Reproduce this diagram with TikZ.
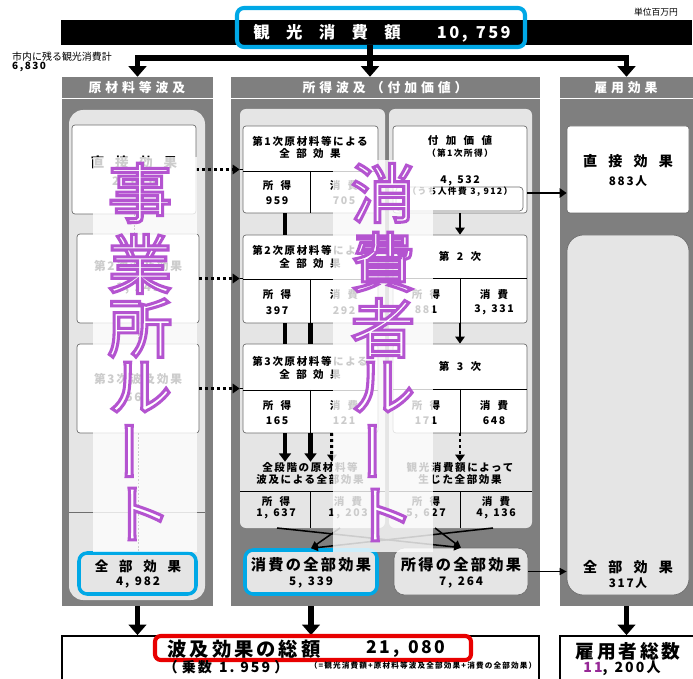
\documentclass[tikz,border=0pt]{standalone}
\usepackage{fontspec}
\setmainfont{Noto Sans CJK JP}[LetterSpace=15]
\newfontfamily\routefont{Noto Sans CJK JP}
\usetikzlibrary{arrows.meta,calc,fit}

\definecolor{panelgray}{RGB}{127,127,127}
\definecolor{lightbg}{RGB}{229,229,229}
\definecolor{boxline}{RGB}{110,110,110}
\definecolor{framecyan}{RGB}{0,168,230}
\definecolor{framered}{RGB}{232,0,0}
\definecolor{numpurple}{RGB}{150,40,150}

\newcommand{\jsp}[1][0.6]{\hspace{#1em}}
% outlined glyph: white fill, purple stroke
\newcommand{\hollow}[1]{\special{pdf:literal direct 2 Tr 2.6 w 0.706 0.329 0.816 RG}#1\special{pdf:literal direct 0 Tr}}

\tikzset{
  panel/.style={inner sep=0pt, fill=panelgray},
  sub/.style={inner sep=0pt, fill=lightbg, rounded corners=5pt},
  wbox/.style={inner sep=0pt, draw=boxline, fill=white, line width=0.6pt, rounded corners=2.5pt},
  cyanbox/.style={inner sep=0pt, draw=framecyan, fill=lightbg, line width=3pt, rounded corners=7pt},
  txt/.style={inner sep=0pt, font=\fontsize{#1}{#1}\selectfont\bfseries},
  txt/.default=9,
  hdr/.style={inner sep=0pt, text=white, font=\fontsize{11}{11}\selectfont\bfseries\addfontfeature{LetterSpace=30}},
  plain/.style={inner sep=0pt, font=\fontsize{#1}{#1}\selectfont\addfontfeature{LetterSpace=0}},
  cellline/.style={line width=0.6pt},
  heavy/.style={line width=5pt, -{Triangle[length=9pt,width=15pt]}},
  barline/.style={line width=4pt},
  downarrow/.style={line width=4pt, -{Triangle[length=7pt,width=10pt]}},
  midarrow/.style={line width=2.5pt, -{Triangle[length=6pt,width=8pt]}},
  thinarrow/.style={line width=1.3pt, -{Triangle[length=6pt,width=6pt]}},
  dotarrow/.style={line width=2.5pt, dash pattern=on 2.5pt off 2.5pt, -{Triangle[length=6pt,width=8pt]}},
  faint/.style={line width=0.8pt, dash pattern=on 1.5pt off 1.5pt},
  route/.style={inner sep=0pt, text=white, font=\routefont\fontsize{55}{55}\selectfont}
}

\begin{document}
\begin{tikzpicture}[x=0.03cm, y=-0.03cm]
\useasboundingbox (0,0) rectangle (693,679);

% top bar
\node[plain=7.5] (unit) at (656,12) {単位百万円};
\node[panel, fill=black, fit={(61,20) (692,45)}] (bar) {};
\node[inner sep=0pt, draw=framecyan, line width=3.5pt, rounded corners=6pt, fit={(237,8) (525,47)}] (titlebox) {};
\node[txt=14, text=white] (title) at (382,33) {観\jsp[1]光\jsp[1]消\jsp[1]費\jsp[1]額\jsp[2.2]10,\jsp[0.5]759};
\node[plain=8.5, anchor=west] (remain) at (12,57) {市内に残る観光消費計};
\node[txt=8.5, anchor=west] (remainv) at (12,67) {6,830};

% panels
\node[panel, fit={(62,77) (213,606)}] (pL) {};
\node[panel, fit={(231,77) (540,606)}] (pM) {};
\node[panel, fit={(560,77) (693,606)}] (pR) {};
\node[hdr] (hL) at (137,88) {原材料等波及};
\node[hdr] (hM) at (385,88) {所得波及\jsp[0.4]（付加価値）};
\node[hdr] (hR) at (626,88) {雇用効果};
\draw[white, line width=0.8pt] (62,98) -- (213,98) (231,98) -- (540,98) (560,98) -- (693,98);

\coordinate (split) at (370,58);
\draw[barline, line width=5pt] (bar.south -| split) -- (split);
\draw[heavy] (split) -| (pL.north);
\draw[heavy] (split) -| (pR.north);
\draw[heavy] (split) -- (split |- pM.north);

% left column
\node[sub, rounded corners=12pt, fit={(69,110) (205,600)}] (lsub) {};
\node[wbox, fit={(72,125) (196,214)}] (l1) {};
\node[txt=11.5] (l1t) at (134,162) {直\jsp[0.8]接\jsp[0.8]効\jsp[0.8]果};
\node[txt=10] (l1v) at (134,182) {2,\jsp[0.5]616};
\node[wbox, fit={(77,234) (199,323)}] (l2) {};
\node[txt=10] (l2t) at (138,266) {第2次波及効果};
\node[txt=10] (l2v) at (138,288) {1,\jsp[0.5]249};
\node[wbox, fit={(77,344) (199,433)}] (l3) {};
\node[txt=10] (l3t) at (138,379) {第3次波及効果};
\node[txt=10] (l3v) at (138,397) {561};
\draw[boxline, line width=0.4pt] (69,512) -- (205,512);
\node[cyanbox, fit={(79,553) (196,594)}] (ltot) {};
\node[txt=11.5] (ltott) at (138,566) {全\jsp[0.8]部\jsp[0.8]効\jsp[0.8]果};
\node[txt=10] (ltotv) at (138,582) {4,\jsp[0.5]982};
\draw[faint] (l1.south) -- (l1.south |- l2.north);
\draw[faint] (l2.south) -- (l2.south |- l3.north);
\draw[faint] (l3.south) -- (l3.south |- ltot.north);

% middle column, left part
\node[sub, fit={(240,109) (385,528)}] (msub1) {};
\node[sub, fit={(389,109) (532,528)}] (msub2) {};
\coordinate (colA) at (285,0);
\coordinate (colB) at (310.5,0);
\coordinate (colC) at (332,0);

\node[wbox, fit={(243,126) (378,213)}] (m1) {};
\draw[cellline] (243,171) -- (378,171) (310.5,171) -- (310.5,213);
\node[txt] (m1a) at (310,141) {第1次原材料等による};
\node[txt] (m1b) at (310,153) {全\jsp[0.6]部\jsp[0.6]効\jsp[0.6]果};
\node[txt] (m1i) at (277,186) {所\jsp[0.7]得};
\node[txt] (m1iv) at (277,201) {959};
\node[txt] (m1c) at (344,186) {消\jsp[0.7]費};
\node[txt] (m1cv) at (344,201) {705};

\node[wbox, fit={(243,235) (378,323)}] (m2) {};
\draw[cellline] (243,279) -- (378,279) (310.5,279) -- (310.5,323);
\node[txt] (m2a) at (310,250) {第2次原材料等による};
\node[txt] (m2b) at (310,263) {全\jsp[0.6]部\jsp[0.6]効\jsp[0.6]果};
\node[txt] (m2i) at (277,295) {所\jsp[0.7]得};
\node[txt] (m2iv) at (277,311) {397};
\node[txt] (m2c) at (344,295) {消\jsp[0.7]費};
\node[txt] (m2cv) at (344,311) {292};

\node[wbox, fit={(243,344) (378,433)}] (m3) {};
\draw[cellline] (243,390) -- (378,390) (310.5,390) -- (310.5,433);
\node[txt] (m3a) at (310,361) {第3次原材料等による};
\node[txt] (m3b) at (310,374) {全\jsp[0.6]部\jsp[0.6]効\jsp[0.6]果};
\node[txt] (m3i) at (277,406) {所\jsp[0.7]得};
\node[txt] (m3iv) at (277,421) {165};
\node[txt] (m3c) at (344,406) {消\jsp[0.7]費};
\node[txt] (m3cv) at (344,421) {121};

\node[txt] (mall) at (310,467) {全段階の原材料等};
\node[txt] (mall2) at (310,479) {波及による全部効果};
\draw[cellline] (240,491) -- (385,491) (310.5,491) -- (310.5,528);
\node[txt] (mti) at (276,502) {所\jsp[0.7]得};
\node[txt] (mtiv) at (276,514) {1,\jsp[0.5]637};
\node[txt] (mtc) at (348,502) {消\jsp[0.7]費};
\node[txt] (mtcv) at (348,514) {1,\jsp[0.5]203};

\draw[barline] (m1.south -| colA) -- (m2.north -| colA);
\draw[barline] (m2.south -| colA) -- (m3.north -| colA);
\draw[barline] (m2.south -| colB) -- (m3.north -| colB);
\draw[downarrow] (m3.south -| colA) -- (mall.north -| colA);
\draw[downarrow] (m3.south -| colB) -- (mall.north -| colB);
\draw[dotarrow, line width=3pt] (m3.south -| colC) -- (mall.north -| colC);

% middle column, right part
\node[wbox, fit={(393,126) (527,213)}] (ma) {};
\node[txt] (maa) at (460,141) {付\jsp[0.7]加\jsp[0.7]価\jsp[0.7]値};
\node[txt=7.5] (mab) at (460,153) {（第1次所得）};
\node[txt] (mav) at (460,181) {4,\jsp[0.5]532};
\node[inner sep=0pt, draw=boxline, line width=0.6pt, rounded corners=3pt, fit={(396,187) (523,211)}] (mai) {};
\node[txt=7.5] (maiv) at (460,192) {（うち人件費\jsp[0.4]3,\jsp[0.4]912）};

\node[wbox, fit={(393,235) (527,323)}] (mb) {};
\draw[cellline] (393,278) -- (527,278) (460,278) -- (460,323);
\node[txt] (mbt) at (460,256) {第\jsp[0.7]2\jsp[0.7]次};
\node[txt] (mbi) at (426,295) {所\jsp[0.7]得};
\node[txt] (mbiv) at (426,310) {881};
\node[txt] (mbc) at (494,295) {消\jsp[0.7]費};
\node[txt] (mbcv) at (494,310) {3,\jsp[0.5]331};

\node[wbox, fit={(393,344) (527,433)}] (mc) {};
\draw[cellline] (393,389) -- (527,389) (460,389) -- (460,433);
\node[txt] (mct) at (460,366) {第\jsp[0.7]3\jsp[0.7]次};
\node[txt] (mci) at (426,406) {所\jsp[0.7]得};
\node[txt] (mciv) at (426,421) {171};
\node[txt] (mcc) at (494,406) {消\jsp[0.7]費};
\node[txt] (mccv) at (494,421) {648};

\node[txt] (mgen) at (460,467) {観光消費額によって};
\node[txt] (mgen2) at (460,479) {生じた全部効果};
\draw[cellline] (389,491) -- (532,491) (460,491) -- (460,528);
\node[txt] (mgi) at (426,502) {所\jsp[0.7]得};
\node[txt] (mgiv) at (426,514) {5,\jsp[0.5]627};
\node[txt] (mgc) at (496,502) {消\jsp[0.7]費};
\node[txt] (mgcv) at (496,514) {4,\jsp[0.5]136};

\draw[midarrow] (ma.south) -- (mb.north);
\draw[midarrow] (mb.south) -- (mc.north);
\draw[dotarrow] (mc.south) -- (mgen.north);

% totals of middle column
\node[cyanbox, fit={(245,550) (377,594)}] (ctot) {};
\node[txt=13] (ctott) at (311,565) {消費の全部効果};
\node[txt=10] (ctotv) at (311,582) {5,\jsp[0.5]339};
\node[sub, draw=boxline, line width=0.6pt, rounded corners=9pt, fit={(394,548) (528,595)}] (itot) {};
\node[txt=13] (itott) at (461,565) {所得の全部効果};
\node[txt=10] (itotv) at (461,582) {7,\jsp[0.5]264};

\coordinate (xs1) at (277,528);
\coordinate (xs2) at (340,528);
\coordinate (xs3) at (435,528);
\coordinate (xs4) at (493,528);
\draw[thinarrow] (xs1) -- (itot.north);
\draw[thinarrow] (xs3) -- (itot.north);
\draw[thinarrow] (xs2) -- (ctot.north);
\draw[thinarrow] (xs4) -- (ctot.north);

% dotted links from left column
\draw[dotarrow] (l1.east) -- (l1.east -| msub1.west);
\draw[cellline] (l1.east -| msub1.west) -- (l1.east -| m1.west);
\draw[dotarrow] (l2.east) -- (l2.east -| msub1.west);
\draw[cellline] (l2.east -| msub1.west) -- (l2.east -| m2.west);
\draw[dotarrow] (l3.east) -- (l3.east -| msub1.west);
\draw[cellline] (l3.east -| msub1.west) -- (l3.east -| m3.west);

% right column
\node[wbox, fit={(567,126) (689,213)}] (rd) {};
\node[txt=12] (rdt) at (628,161) {直\jsp[0.8]接\jsp[0.8]効\jsp[0.8]果};
\node[txt=10] (rdv) at (628,181) {883人};
\node[sub, draw=boxline, line width=0.6pt, rounded corners=14pt, fit={(567,235) (689,595)}] (rsub) {};
\node[txt=12] (rsubt) at (628,567) {全\jsp[0.8]部\jsp[0.8]効\jsp[0.8]果};
\node[txt=10] (rsubv) at (628,583) {317人};
\coordinate (aout) at (527,193);
\draw[midarrow] (aout) -- (aout -| rd.west);
\draw[thinarrow] (itot.east) -- (itot.east -| rsub.west);

% bottom
\node[inner sep=0pt, draw=black, line width=1.5pt, fit={(62,636) (539,700)}] (total) {};
\node[inner sep=0pt, draw=black, line width=1.5pt, fit={(560,636) (700,700)}] (rtot) {};
\draw[heavy] (pL.south) -- (pL.south |- total.north);
\draw[heavy] (ctot.south |- pM.south) -- (ctot.south |- total.north);
\draw[heavy] (pR.south) -- (pR.south |- rtot.north);
\node[inner sep=0pt, draw=framered, line width=3.5pt, rounded corners=5pt, fit={(155,636) (471,660)}] (sumbox) {};
\node[txt=16.5] (sumt) at (244,649) {波及効果の総額};
\node[txt=15] (sumv) at (406,649) {21,\jsp[0.5]080};
\node[txt=12] (mult) at (226,667) {（\jsp[0.3]乗数\jsp[0.5]1.\jsp[0.4]959\jsp[0.3]）};
\node[txt=6.5] (note) at (423,666) {（=観光消費額+原材料等波及全部効果+消費の全部効果）};
\node[txt=16] (emp) at (628,651) {雇用者総数};
\node[txt=12] (empv) at (622,668) {{\color{numpurple}11},\jsp[0.5]200人};

% white veils over the two routes
\fill[white, opacity=0.8] (93,157) rectangle (197,552);
\fill[white, opacity=0.8] (333,160) rectangle (433,552);

% route captions
\foreach \c/\yy/\r [count=\i] in {事/193/0,業/264/0,所/328/0,ル/387/0,ー/451/90,ト/514/0}
  \node[route, rotate=\r] (lw\i) at (140,\yy) {\hollow{\c}};
\foreach \c/\yy/\r [count=\i] in {消/193/0,費/262/0,者/328/0,ル/387/0,ー/451/90,ト/515/0}
  \node[route, rotate=\r] (rw\i) at (383,\yy) {\hollow{\c}};
\end{tikzpicture}
\end{document}
